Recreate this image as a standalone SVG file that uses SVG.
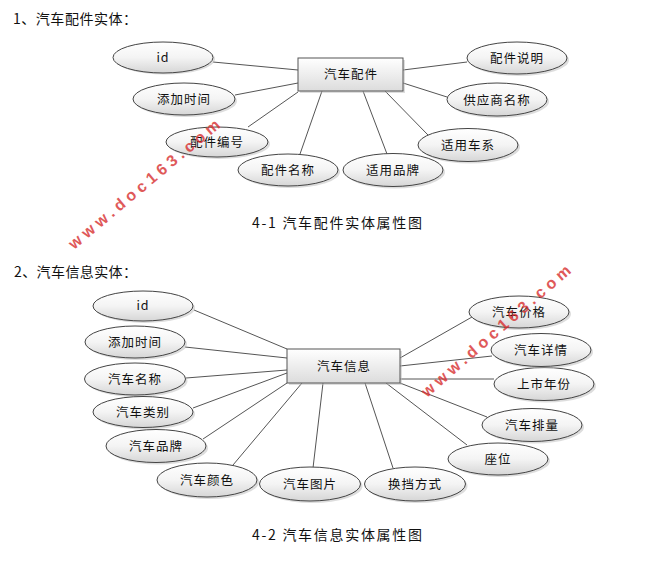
<svg xmlns="http://www.w3.org/2000/svg" width="663" height="585" viewBox="0 0 663 585">
<defs>
<linearGradient id="eg" x1="0" y1="0" x2="0" y2="1">
<stop offset="0" stop-color="#ffffff"/>
<stop offset="0.5" stop-color="#f4f4f4"/>
<stop offset="1" stop-color="#d6d6d6"/>
</linearGradient>
<linearGradient id="rg" x1="0" y1="0" x2="0" y2="1">
<stop offset="0" stop-color="#ffffff"/>
<stop offset="1" stop-color="#dcdcdc"/>
</linearGradient>
</defs>
<style>
.t{font-family:"Noto Sans CJK SC","Liberation Sans",sans-serif;font-size:12.5px;fill:#111;text-anchor:middle;letter-spacing:1px}
.h{font-family:"Noto Sans CJK SC","Liberation Sans",sans-serif;font-size:14px;fill:#111}
.c{font-family:"Noto Sans CJK SC","Liberation Sans",sans-serif;font-size:14px;fill:#111}
.e{fill:url(#eg);stroke:#444;stroke-width:1}
.s{fill:#bbb;opacity:0.5}
.r{fill:url(#rg);stroke:#555;stroke-width:1}
.l{stroke:#555;stroke-width:1;fill:none}
.w{font-family:"Liberation Sans",sans-serif;font-weight:bold;font-size:16px;fill:#d83030;opacity:0.8}
</style>
<rect width="663" height="585" fill="#fff"/>
<text class="h" x="13" y="24" textLength="124">1、汽车配件实体：</text>
<text class="h" x="14" y="277" textLength="123">2、汽车信息实体：</text>
<text class="c" x="252" y="228" textLength="170">4-1 汽车配件实体属性图</text>
<text class="c" x="252" y="540" textLength="170">4-2 汽车信息实体属性图</text>

<g id="connectors">
<path class="l" d="M213,62L298,70"/>
<path class="l" d="M235,95L298,83"/>
<path class="l" d="M248,127L298,92"/>
<path class="l" d="M300,154L322,91"/>
<path class="l" d="M387,154L363,91"/>
<path class="l" d="M428,135L385,91"/>
<path class="l" d="M447,97L403,83"/>
<path class="l" d="M467,62L403,70"/>

<path class="l" d="M194,310L287,349"/>
<path class="l" d="M185,347L287,358"/>
<path class="l" d="M186,378L287,370"/>
<path class="l" d="M193,408L287,373"/>
<path class="l" d="M203,439L287,383"/>
<path class="l" d="M233,465L302,383"/>
<path class="l" d="M313,468L323,383"/>
<path class="l" d="M393,468L365,383"/>
<path class="l" d="M467,445L386,383"/>
<path class="l" d="M487,417L400,383"/>
<path class="l" d="M494,379L400,379"/>
<path class="l" d="M492,356L400,366"/>
<path class="l" d="M472,317L400,358"/>
</g>

<g id="e1">
<rect class="s" x="300" y="60" width="105" height="33"/>
<rect class="r" x="298" y="58" width="105" height="33"/>
<text class="t" x="351" y="79">汽车配件</text>
</g>
<g id="e1-id"><ellipse class="s" cx="165" cy="59" rx="50" ry="15.5"/><ellipse class="e" cx="163" cy="57.5" rx="50" ry="15.5"/><text class="t" x="163" y="62">id</text></g>
<g id="e1-tjsj"><ellipse class="s" cx="186" cy="101" rx="51" ry="16"/><ellipse class="e" cx="184" cy="99" rx="51" ry="16"/><text class="t" x="184" y="104">添加时间</text></g>
<g id="e1-pjbh"><ellipse class="s" cx="219" cy="144" rx="51" ry="15"/><ellipse class="e" cx="217" cy="142" rx="51" ry="15"/><text class="t" x="217" y="147">配件编号</text></g>
<g id="e1-pjmc"><ellipse class="s" cx="290" cy="172" rx="50" ry="16"/><ellipse class="e" cx="288" cy="170" rx="50" ry="16"/><text class="t" x="288" y="175">配件名称</text></g>
<g id="e1-sypp"><ellipse class="s" cx="395" cy="172" rx="50" ry="16.5"/><ellipse class="e" cx="393" cy="170" rx="50" ry="16.5"/><text class="t" x="393" y="175">适用品牌</text></g>
<g id="e1-sycx"><ellipse class="s" cx="470" cy="147" rx="50" ry="16.5"/><ellipse class="e" cx="468" cy="145" rx="50" ry="16.5"/><text class="t" x="468" y="150">适用车系</text></g>
<g id="e1-gysmc"><ellipse class="s" cx="499" cy="101.5" rx="50" ry="16.5"/><ellipse class="e" cx="497" cy="99.5" rx="50" ry="16.5"/><text class="t" x="497" y="104.5">供应商名称</text></g>
<g id="e1-pjsm"><ellipse class="s" cx="519" cy="60" rx="50" ry="16"/><ellipse class="e" cx="517" cy="58" rx="50" ry="16"/><text class="t" x="517" y="63">配件说明</text></g>

<g id="e2">
<rect class="s" x="289" y="351" width="113" height="34"/>
<rect class="r" x="287" y="349" width="113" height="34"/>
<text class="t" x="344" y="371">汽车信息</text>
</g>
<g id="e2-id"><ellipse class="s" cx="145" cy="308" rx="50" ry="15"/><ellipse class="e" cx="143" cy="306" rx="50" ry="15"/><text class="t" x="143" y="310">id</text></g>
<g id="e2-tjsj"><ellipse class="s" cx="137" cy="344" rx="50" ry="16"/><ellipse class="e" cx="135" cy="342" rx="50" ry="16"/><text class="t" x="135" y="347">添加时间</text></g>
<g id="e2-qcmc"><ellipse class="s" cx="137" cy="381" rx="50.5" ry="16"/><ellipse class="e" cx="135" cy="379" rx="50.5" ry="16"/><text class="t" x="135" y="384">汽车名称</text></g>
<g id="e2-qclb"><ellipse class="s" cx="145" cy="414" rx="50" ry="15.5"/><ellipse class="e" cx="143" cy="412" rx="50" ry="15.5"/><text class="t" x="143" y="417">汽车类别</text></g>
<g id="e2-qcpp"><ellipse class="s" cx="158" cy="448" rx="50" ry="16.5"/><ellipse class="e" cx="156" cy="446" rx="50" ry="16.5"/><text class="t" x="156" y="451">汽车品牌</text></g>
<g id="e2-qcys"><ellipse class="s" cx="209" cy="482" rx="50" ry="17"/><ellipse class="e" cx="207" cy="480" rx="50" ry="17"/><text class="t" x="207" y="485">汽车颜色</text></g>
<g id="e2-qctp"><ellipse class="s" cx="312" cy="486" rx="50.5" ry="17"/><ellipse class="e" cx="310" cy="484" rx="50.5" ry="17"/><text class="t" x="310" y="489">汽车图片</text></g>
<g id="e2-hdfs"><ellipse class="s" cx="417" cy="486" rx="50.5" ry="17"/><ellipse class="e" cx="415" cy="484" rx="50.5" ry="17"/><text class="t" x="415" y="489">换挡方式</text></g>
<g id="e2-zw"><ellipse class="s" cx="500" cy="461" rx="50" ry="16"/><ellipse class="e" cx="498" cy="459" rx="50" ry="16"/><text class="t" x="498" y="464">座位</text></g>
<g id="e2-qcpl"><ellipse class="s" cx="534" cy="427" rx="50" ry="16.5"/><ellipse class="e" cx="532" cy="425" rx="50" ry="16.5"/><text class="t" x="532" y="430">汽车排量</text></g>
<g id="e2-ssnf"><ellipse class="s" cx="546" cy="386" rx="50" ry="16.5"/><ellipse class="e" cx="544" cy="384" rx="50" ry="16.5"/><text class="t" x="544" y="389">上市年份</text></g>
<g id="e2-qcxq"><ellipse class="s" cx="543" cy="352" rx="50" ry="16.5"/><ellipse class="e" cx="541" cy="350" rx="50" ry="16.5"/><text class="t" x="541" y="355">汽车详情</text></g>
<g id="e2-qcjg"><ellipse class="s" cx="521" cy="314" rx="50" ry="16"/><ellipse class="e" cx="519" cy="312" rx="50" ry="16"/><text class="t" x="519" y="317">汽车价格</text></g>

<text class="w" transform="translate(74,250) rotate(-40)" textLength="192">www.doc163.com</text>
<text class="w" transform="translate(427,398) rotate(-41)" textLength="192">www.doc163.com</text>
</svg>
